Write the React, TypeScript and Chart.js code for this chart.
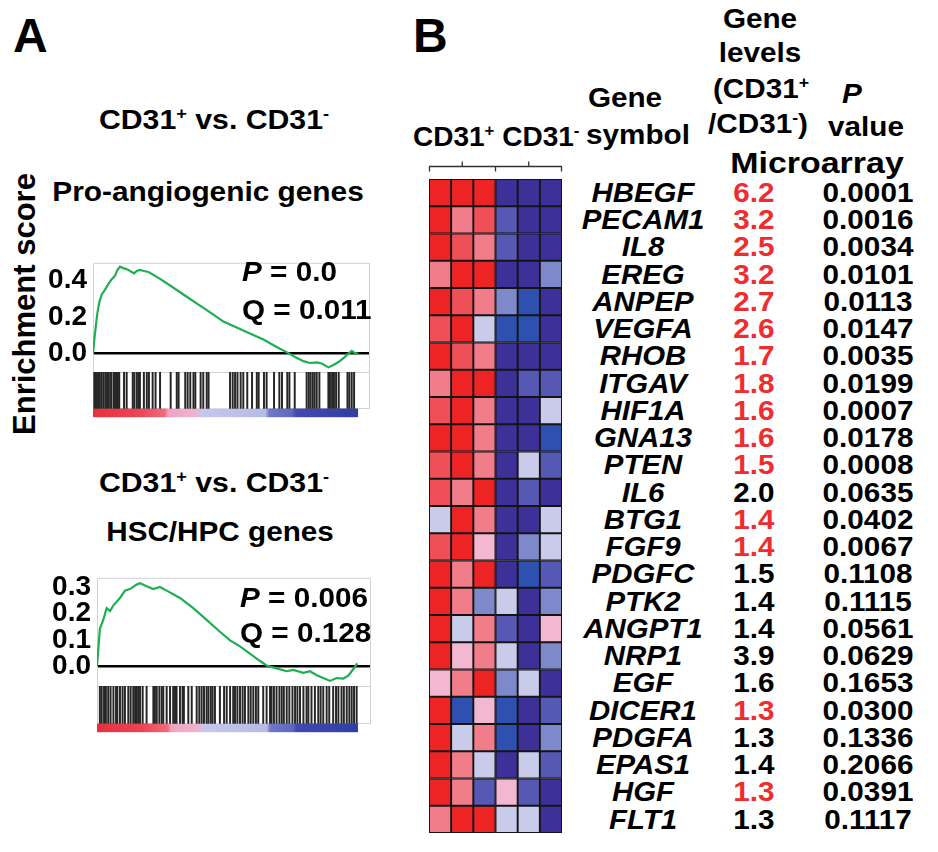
import React, { useEffect, useRef } from "react";
import { Chart, registerables } from "chart.js";
Chart.register(...registerables);

const FONT = '"Liberation Sans", Arial, Helvetica, sans-serif';

// ---------- Panel A: GSEA running enrichment score (rank in % of list) ----------
const ANGIO_RANK = [0, 0.5, 1.0, 1.6, 2.4, 3.3, 4.5, 5.8, 7.0, 8.3, 9.2, 10.2, 11.4, 13.0, 14.6, 15.5, 16.5, 17.7, 19.2, 20.9, 22.8, 25.3, 29.1, 34.1, 39.1, 44.2, 49.2, 54.2, 59.2, 64.3, 69.3, 73.7, 76.2, 79.4, 81.9, 84.4, 86.3, 88.8, 90.7, 92.6, 94.5, 95.7, 97.6, 98.9, 100];
const ANGIO_ES = [0, 0.077, 0.143, 0.216, 0.282, 0.323, 0.348, 0.38, 0.405, 0.425, 0.457, 0.475, 0.467, 0.46, 0.446, 0.438, 0.451, 0.457, 0.451, 0.446, 0.43, 0.408, 0.372, 0.323, 0.274, 0.225, 0.175, 0.143, 0.11, 0.077, 0.036, 0.003, -0.018, -0.041, -0.051, -0.048, -0.054, -0.075, -0.062, -0.046, -0.025, -0.008, 0.015, 0.003, 0];
const ANGIO_HITS = [0.5, 1.0, 1.5, 2.1, 2.6, 3.3, 4.0, 4.7, 5.3, 6.0, 6.8, 7.7, 8.3, 8.9, 9.4, 9.9, 11.7, 12.7, 15.0, 15.6, 16.5, 17.1, 17.7, 19.2, 20.3, 21.1, 22.5, 23.6, 25.3, 29.3, 31.6, 32.3, 34.8, 35.7, 36.7, 37.9, 38.6, 40.6, 41.6, 42.9, 43.6, 51.7, 52.7, 53.6, 54.5, 55.7, 56.7, 58.2, 60.0, 61.8, 62.5, 64.5, 65.5, 68.3, 70.3, 71.3, 73.3, 74.1, 76.1, 80.6, 81.4, 82.1, 82.9, 83.6, 84.4, 85.4, 88.8, 89.4, 90.2, 90.9, 91.7, 92.7, 96.0, 96.7, 97.6, 98.5];
const ANGIO_TICKS = [0, 0.2, 0.4];

const HSC_RANK = [0, 0.5, 1.1, 2.4, 3.7, 5.0, 6.3, 8.8, 10.7, 12.6, 15.2, 16.5, 19.0, 21.6, 24.1, 26.7, 31.8, 36.9, 42.0, 47.1, 51.0, 54.8, 58.6, 62.5, 65.0, 68.8, 72.7, 75.2, 79.1, 81.6, 84.2, 86.7, 89.3, 91.8, 94.4, 96.3, 97.6, 98.9, 99.7];
const HSC_ES = [0, 0.064, 0.142, 0.176, 0.221, 0.21, 0.232, 0.26, 0.288, 0.294, 0.311, 0.316, 0.305, 0.294, 0.302, 0.288, 0.26, 0.221, 0.176, 0.131, 0.098, 0.075, 0.047, 0.019, 0.002, -0.009, -0.02, -0.015, -0.026, -0.02, -0.035, -0.046, -0.057, -0.046, -0.048, -0.037, -0.02, -0.003, 0.01];
const HSC_HITS = [1.1, 1.8, 2.7, 3.4, 4.3, 5.2, 6.3, 7.3, 7.8, 8.8, 9.8, 10.7, 12.0, 12.9, 13.9, 14.6, 15.2, 15.8, 16.5, 17.5, 19.0, 21.6, 22.2, 22.9, 23.9, 24.8, 25.4, 26.7, 28.0, 29.2, 29.9, 30.5, 31.8, 32.8, 33.3, 35.0, 36.3, 38.2, 39.2, 40.1, 41.0, 42.0, 42.7, 43.6, 44.3, 45.2, 47.1, 48.7, 49.7, 51.0, 52.2, 52.9, 53.8, 54.8, 55.8, 56.7, 58.0, 58.9, 59.9, 60.9, 61.8, 63.7, 65.0, 66.3, 66.9, 67.8, 68.8, 69.9, 70.8, 71.6, 72.7, 73.7, 74.9, 75.9, 76.8, 77.8, 79.1, 80.3, 81.0, 82.2, 83.5, 84.8, 85.7, 86.7, 88.0, 89.0, 90.5, 91.6, 92.5, 93.7, 94.6, 95.7, 96.7, 97.6, 98.5, 99.5];
const HSC_TICKS = [0, 0.1, 0.2, 0.3];

// ranked-list colour bar (style)
const GRADIENT_STOPS: [number, string][] = [
  [0, "#e8303e"], [18, "#ec4656"], [27, "#f06a7c"], [28.5, "#f0a4c2"], [39, "#eeb4cc"],
  [40.5, "#c6c8ea"], [65, "#b6bbe4"], [66.5, "#6e78c6"], [75, "#6068bf"], [76.5, "#4249b1"], [100, "#2f3ea6"],
];

// ---------- Panel B: heatmap + table ----------
const SAMPLES = ["CD31+ 1", "CD31+ 2", "CD31+ 3", "CD31- 1", "CD31- 2", "CD31- 3"];
const GENES = ["HBEGF", "PECAM1", "IL8", "EREG", "ANPEP", "VEGFA", "RHOB", "ITGAV", "HIF1A", "GNA13", "PTEN", "IL6", "BTG1", "FGF9", "PDGFC", "PTK2", "ANGPT1", "NRP1", "EGF", "DICER1", "PDGFA", "EPAS1", "HGF", "FLT1"];
const FOLD = [6.2, 3.2, 2.5, 3.2, 2.7, 2.6, 1.7, 1.8, 1.6, 1.6, 1.5, 2.0, 1.4, 1.4, 1.5, 1.4, 1.4, 3.9, 1.6, 1.3, 1.3, 1.4, 1.3, 1.3];
const PVALUE = [0.0001, 0.0016, 0.0034, 0.0101, 0.0113, 0.0147, 0.0035, 0.0199, 0.0007, 0.0178, 0.0008, 0.0635, 0.0402, 0.0067, 0.1108, 0.1115, 0.0561, 0.0629, 0.1653, 0.03, 0.1336, 0.2066, 0.0391, 0.1117];
// relative expression (red high, blue low)
const HEAT: number[][] = [
  [3, 3, 3, -3, -3, -3],
  [3, 1.3, 2, -1.8, -3, -3],
  [3, 2, 1.3, -1.8, -3, -3],
  [1.3, 3, 3, -3, -3, -1],
  [3, 2, 1.3, -1, -2.5, -3],
  [2, 3, 0, -2.5, -2.5, -3],
  [3, 2, 1.3, -3, -3, -3],
  [1.3, 3, 3, -3, -1.8, -1.8],
  [2, 3, 1.3, -3, -3, 0],
  [3, 3, 1.3, -3, -3, -2.5],
  [2, 3, 1.3, -3, 0, -1.8],
  [2, 1.3, 3, -3, -1.8, -3],
  [0, 3, 1.3, -3, -3, 0],
  [2, 3, 0.6, -3, -1, 0],
  [3, 1.3, 3, -3, -2.5, -1.8],
  [3, 1.3, -1, 0, -3, -1],
  [3, 0, 1.3, -1.8, -3, 0.6],
  [3, 0.6, 1.3, 0, -3, -1],
  [0.6, 1.3, 3, -1, 0, -3],
  [3, -2.5, 0.6, -2.5, -3, -1.8],
  [3, 0, 1.3, -2.5, -3, -1],
  [3, 1.3, 0, -3, 0, -1.8],
  [3, 1.3, -1.8, 0.6, -1.8, -3],
  [1.3, 3, 3, 0, 0, -3],
];

function heatColor(v: number): string {
  if (v >= 2.5) return "#ee2424";
  if (v >= 1.7) return "#ef5058";
  if (v >= 1) return "#f17c8a";
  if (v >= 0.4) return "#f2b8d2";
  if (v >= -0.4) return "#c8cbea";
  if (v >= -1.4) return "#7d89ca";
  if (v >= -2.2) return "#5559b3";
  if (v >= -2.7) return "#2e50b0";
  return "#3e3099";
}

// ---------- text helper ----------
type TxtProps = {
  x: number; y: number; size?: number; align?: "left" | "center" | "right";
  italic?: boolean; color?: string; sx?: number; children: React.ReactNode;
};
function Txt({ x, y, size = 28, align = "left", italic = false, color = "#000", sx = 1.06, children }: TxtProps) {
  const tx = align === "center" ? "translateX(-50%) " : align === "right" ? "translateX(-100%) " : "";
  const origin = align === "center" ? "50% 0" : align === "right" ? "100% 0" : "0 0";
  return (
    <div
      style={{
        position: "absolute", left: x, top: y - 0.846 * size, fontFamily: FONT, fontWeight: 700,
        fontStyle: italic ? "italic" : "normal", fontSize: size, lineHeight: `${size}px`,
        whiteSpace: "nowrap", color, transform: `${tx}scaleX(${sx})`, transformOrigin: origin,
      }}
    >
      {children}
    </div>
  );
}
const Sup = ({ children }: { children: React.ReactNode }) => (
  <span style={{ fontSize: "0.6em", position: "relative", top: "-0.6em" }}>{children}</span>
);

// ---------- GSEA chart ----------
type GseaProps = {
  left: number; top: number; width: number; height: number;
  pad: { left: number; right: number; top: number; bottom: number };
  rank: number[]; es: number[]; hits: number[]; ticks: number[];
  yMin: number; yMax: number; xMax: number; gradTop: number; hitTop: number;
};

function Gsea(p: GseaProps) {
  const ref = useRef<HTMLCanvasElement | null>(null);
  useEffect(() => {
    if (!ref.current) return;
    const framePlugin = {
      id: "gseaFrame",
      beforeDatasetsDraw(chart: any) {
        const { ctx, chartArea: a, scales } = chart;
        const x = scales.x, y2 = scales.y2;
        const gx0 = x.getPixelForValue(0), gx1 = x.getPixelForValue(100);
        const gTop = y2.getPixelForValue(p.gradTop), gBot = y2.getPixelForValue(0);
        const sep = y2.getPixelForValue(p.hitTop);
        ctx.save();
        // colour bar of the ranked list
        const g = ctx.createLinearGradient(gx0, 0, gx1, 0);
        GRADIENT_STOPS.forEach(([s, c]) => g.addColorStop(s / 100, c));
        ctx.fillStyle = g;
        ctx.fillRect(gx0, gTop, gx1 - gx0, gBot - gTop);
        // light frame
        ctx.strokeStyle = "#d2d2d2";
        ctx.lineWidth = 1;
        ctx.beginPath();
        ctx.moveTo(a.left + 0.5, gTop);
        ctx.lineTo(a.left + 0.5, a.top + 0.5);
        ctx.lineTo(a.right - 0.5, a.top + 0.5);
        ctx.lineTo(a.right - 0.5, gTop);
        ctx.moveTo(a.left, Math.round(sep) + 0.5);
        ctx.lineTo(a.right, Math.round(sep) + 0.5);
        ctx.moveTo(gx1, Math.round(gTop) + 0.5);
        ctx.lineTo(a.right, Math.round(gTop) + 0.5);
        ctx.stroke();
        ctx.restore();
      },
    };
    const chart = new Chart(ref.current, {
      type: "bar",
      data: {
        datasets: [
          {
            type: "line",
            data: p.rank.map((r, i) => ({ x: r, y: p.es[i] })),
            yAxisID: "y",
            borderColor: "#1fae52",
            borderWidth: 2.2,
            pointRadius: 0,
            tension: 0,
            order: 0,
          } as any,
          {
            type: "bar",
            data: p.hits.map((h) => ({ x: h, y: [p.gradTop, p.hitTop] })),
            yAxisID: "y2",
            backgroundColor: "#262626",
            barThickness: 1.3,
            grouped: false,
            order: 1,
          } as any,
        ],
      },
      options: {
        responsive: false,
        animation: false,
        events: [],
        layout: { padding: p.pad },
        plugins: { legend: { display: false }, tooltip: { enabled: false } },
        scales: {
          x: { type: "linear", min: 0, max: p.xMax, display: false, offset: false },
          y: {
            type: "linear",
            min: p.yMin,
            max: p.yMax,
            position: "left",
            afterFit: (s: any) => { s.width = 52; },
            afterBuildTicks: (s: any) => { s.ticks = p.ticks.map((v) => ({ value: v })); },
            ticks: {
              font: { family: FONT, size: 28, weight: "bold" },
              color: "#000",
              padding: 6,
              callback: (v: any) => Number(v).toFixed(1),
            },
            grid: {
              drawTicks: false,
              color: (c: any) => (c.tick && c.tick.value === 0 ? "#000" : "rgba(0,0,0,0)"),
              lineWidth: 2.5,
            },
            border: { display: false },
          },
          y2: { type: "linear", min: 0, max: 1, display: false },
        },
      } as any,
      plugins: [framePlugin],
    });
    return () => chart.destroy();
  }, []);
  return (
    <canvas
      ref={ref}
      width={p.width}
      height={p.height}
      style={{ position: "absolute", left: p.left, top: p.top, width: p.width, height: p.height }}
    />
  );
}

// ---------- Heatmap chart ----------
function Heatmap() {
  const ref = useRef<HTMLCanvasElement | null>(null);
  useEffect(() => {
    if (!ref.current) return;
    const cells = HEAT.flatMap((row, r) => row.map((v, c) => ({ x: SAMPLES[c], y: [r, r + 1], v })));
    const bracketPlugin = {
      id: "bracket",
      afterDraw(chart: any) {
        const { ctx, chartArea: a, scales } = chart;
        const x = scales.x;
        const yb = Math.round(a.top - 13) + 0.5;
        const mid = (x.getPixelForValue(2) + x.getPixelForValue(3)) / 2;
        const c1 = x.getPixelForValue(1), c2 = x.getPixelForValue(4);
        ctx.save();
        ctx.strokeStyle = "#333";
        ctx.lineWidth = 1.3;
        ctx.beginPath();
        ctx.moveTo(a.left, yb);
        ctx.lineTo(a.right, yb);
        [a.left + 0.5, mid, a.right - 0.5].forEach((px) => { ctx.moveTo(px, yb); ctx.lineTo(px, yb + 5); });
        [c1, c2].forEach((px) => { ctx.moveTo(px, yb); ctx.lineTo(px, yb - 5); });
        ctx.stroke();
        ctx.restore();
      },
    };
    const chart = new Chart(ref.current, {
      type: "bar",
      data: {
        labels: SAMPLES,
        datasets: [
          {
            data: cells as any,
            backgroundColor: cells.map((c) => heatColor(c.v)),
            borderColor: "#141414",
            borderWidth: 1.3,
            borderSkipped: false,
            categoryPercentage: 1,
            barPercentage: 1,
            grouped: false,
          } as any,
        ],
      },
      options: {
        responsive: false,
        animation: false,
        events: [],
        layout: { padding: { left: 9, right: 8, top: 29, bottom: 7 } },
        plugins: { legend: { display: false }, tooltip: { enabled: false } },
        scales: {
          x: { type: "category", display: false, offset: true },
          y: { type: "linear", display: false, min: 0, max: HEAT.length, reverse: true },
        },
      } as any,
      plugins: [bracketPlugin],
    });
    return () => chart.destroy();
  }, []);
  return (
    <canvas
      ref={ref}
      width={150}
      height={690}
      style={{ position: "absolute", left: 420, top: 150, width: 150, height: 690 }}
    />
  );
}

export default function App() {
  const rowTop = 179;
  const rowH = 27.25;
  return (
    <div style={{ position: "absolute", left: 0, top: 0, width: 938, height: 852, background: "#fff", overflow: "hidden" }}>
      {/* Panel A */}
      <Txt x={13} y={53} size={48} sx={1}>A</Txt>
      <Txt x={214} y={130} align="center" sx={1.08}>CD31<Sup>+</Sup> vs. CD31<Sup>-</Sup></Txt>
      <Txt x={208} y={202} align="center" sx={1.065}>Pro-angiogenic genes</Txt>
      <div
        style={{
          position: "absolute", left: 24, top: 304, fontFamily: FONT, fontWeight: 700, fontSize: 31,
          lineHeight: "31px", whiteSpace: "nowrap", transform: "translate(-50%, -50%) rotate(-90deg)",
        }}
      >
        Enrichment score
      </div>
      <Gsea
        left={30} top={240} width={350} height={200}
        pad={{ left: 11, right: 10, top: 13, bottom: 12 }}
        rank={ANGIO_RANK} es={ANGIO_ES} hits={ANGIO_HITS} ticks={ANGIO_TICKS}
        yMin={-0.347} yMax={0.496} xMax={104.5} gradTop={0.057} hitTop={0.291}
      />
      <Txt x={242} y={282}><i>P</i> = 0.0</Txt>
      <Txt x={242} y={320}>Q = 0.011</Txt>

      <Txt x={214} y={493} align="center" sx={1.08}>CD31<Sup>+</Sup> vs. CD31<Sup>-</Sup></Txt>
      <Txt x={220} y={542} align="center">HSC/HPC genes</Txt>
      <Gsea
        left={30} top={555} width={350} height={200}
        pad={{ left: 15, right: 9, top: 14, bottom: 11 }}
        rank={HSC_RANK} es={HSC_ES} hits={HSC_HITS} ticks={HSC_TICKS}
        yMin={-0.253} yMax={0.337} xMax={105} gradTop={0.057} hitTop={0.297}
      />
      <Txt x={240} y={608}><i>P</i> = 0.006</Txt>
      <Txt x={240} y={643}>Q = 0.128</Txt>

      {/* Panel B */}
      <Txt x={413} y={53} size={48} sx={1}>B</Txt>
      <Txt x={413} y={147} sx={1}>CD31<Sup>+</Sup> CD31<Sup>-</Sup></Txt>
      <Txt x={625} y={108} align="center">Gene</Txt>
      <Txt x={638} y={145} align="center">symbol</Txt>
      <Txt x={760} y={29} align="center">Gene</Txt>
      <Txt x={760} y={63} align="center">levels</Txt>
      <Txt x={761} y={99} align="center">(CD31<Sup>+</Sup></Txt>
      <Txt x={758} y={134} align="center">/CD31<Sup>-</Sup>)</Txt>
      <Txt x={817} y={174} align="center" size={29} sx={1.17}>Microarray</Txt>
      <Txt x={852} y={104} align="center"><i>P</i></Txt>
      <Txt x={866} y={137} align="center">value</Txt>

      <Heatmap />

      {GENES.map((g, i) => {
        const base = rowTop + rowH * (i + 0.5) + 10;
        return (
          <React.Fragment key={g}>
            <Txt x={643} y={base} align="center" italic sx={1.05}>{g}</Txt>
            <Txt x={754} y={base} align="center" color={PVALUE[i] < 0.05 ? "#ee2e2e" : "#000"}>{FOLD[i].toFixed(1)}</Txt>
            <Txt x={868} y={base} align="center">{PVALUE[i].toFixed(4)}</Txt>
          </React.Fragment>
        );
      })}
    </div>
  );
}
